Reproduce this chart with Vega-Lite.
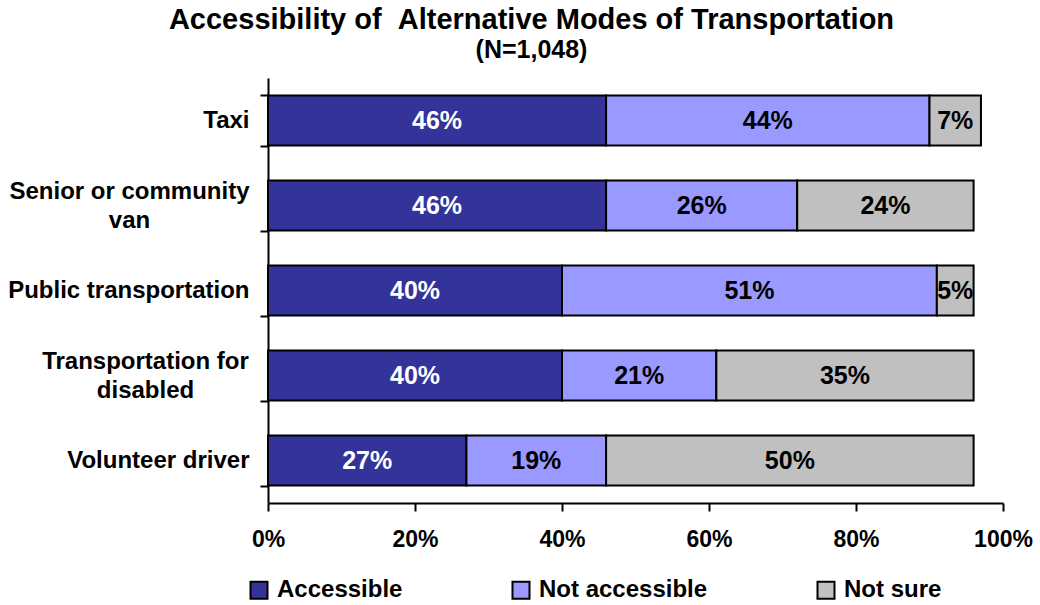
{
  "$schema": "https://vega.github.io/schema/vega-lite/v6.json",
  "autosize": {"type": "none"},
  "width": 735,
  "height": 425,
  "padding": {"left": 268, "top": 78, "right": 37, "bottom": 102},
  "background": "white",
  "title": {
    "text": "Accessibility of \u00a0Alternative Modes of Transportation",
    "subtitle": "(N=1,048)",
    "anchor": "middle",
    "dx": -104,
    "offset": 3,
    "font": "Liberation Sans",
    "fontSize": 29,
    "fontWeight": "bold",
    "color": "black",
    "subtitleFont": "Liberation Sans",
    "subtitleFontSize": 25,
    "subtitleFontWeight": "bold",
    "subtitleColor": "black",
    "subtitlePadding": 3
  },
  "data": {
    "values": [
      {"mode": "Taxi", "status": "Accessible", "k": 1, "value": 0.46},
      {"mode": "Taxi", "status": "Not accessible", "k": 2, "value": 0.44},
      {"mode": "Taxi", "status": "Not sure", "k": 3, "value": 0.07},
      {"mode": "Senior or community van", "status": "Accessible", "k": 1, "value": 0.46},
      {"mode": "Senior or community van", "status": "Not accessible", "k": 2, "value": 0.26},
      {"mode": "Senior or community van", "status": "Not sure", "k": 3, "value": 0.24},
      {"mode": "Public transportation", "status": "Accessible", "k": 1, "value": 0.40},
      {"mode": "Public transportation", "status": "Not accessible", "k": 2, "value": 0.51},
      {"mode": "Public transportation", "status": "Not sure", "k": 3, "value": 0.05},
      {"mode": "Transportation for disabled", "status": "Accessible", "k": 1, "value": 0.40},
      {"mode": "Transportation for disabled", "status": "Not accessible", "k": 2, "value": 0.21},
      {"mode": "Transportation for disabled", "status": "Not sure", "k": 3, "value": 0.35},
      {"mode": "Volunteer driver", "status": "Accessible", "k": 1, "value": 0.27},
      {"mode": "Volunteer driver", "status": "Not accessible", "k": 2, "value": 0.19},
      {"mode": "Volunteer driver", "status": "Not sure", "k": 3, "value": 0.50}
    ]
  },
  "encoding": {
    "y": {
      "field": "mode",
      "type": "nominal",
      "sort": ["Taxi", "Senior or community van", "Public transportation", "Transportation for disabled", "Volunteer driver"],
      "scale": {"paddingInner": 0.41, "paddingOuter": 0.205},
      "axis": {
        "title": null,
        "domainColor": "black",
        "domainWidth": 2,
        "tickColor": "black",
        "tickWidth": 2,
        "tickSize": 8,
        "tickBand": "extent",
        "labelFont": "Liberation Sans",
        "labelFontSize": 24,
        "labelFontWeight": "bold",
        "labelColor": "black",
        "labelLimit": 300,
        "labelLineHeight": 29,
        "labelAlign": {"condition": {"test": "datum.label == 'Senior or community van' || datum.label == 'Transportation for disabled'", "value": "center"}, "value": "right"},
        "labelPadding": {"condition": [
          {"test": "datum.label == 'Senior or community van'", "value": 131},
          {"test": "datum.label == 'Transportation for disabled'", "value": 115}
        ], "value": 11},
        "labelOffset": {"condition": {"test": "datum.label == 'Senior or community van' || datum.label == 'Transportation for disabled'", "value": -14}, "value": 0},
        "labelExpr": "datum.label == 'Senior or community van' ? ['Senior or community', 'van'] : datum.label == 'Transportation for disabled' ? ['Transportation for', 'disabled'] : datum.label"
      }
    }
  },
  "layer": [
    {
      "mark": {"type": "bar", "stroke": "black", "strokeWidth": 2},
      "encoding": {
        "x": {
          "field": "value",
          "type": "quantitative",
          "stack": "zero",
          "scale": {"domain": [0, 1], "nice": false},
          "axis": {
            "title": null,
            "values": [0, 0.2, 0.4, 0.6, 0.8, 1],
            "format": ".0%",
            "grid": false,
            "domainColor": "black",
            "domainWidth": 2,
            "tickColor": "black",
            "tickWidth": 2,
            "tickSize": 8,
            "labelFont": "Liberation Sans",
            "labelFontSize": 23,
            "labelFontWeight": "bold",
            "labelColor": "black",
            "labelPadding": 17,
            "labelFlush": false
          }
        },
        "color": {
          "field": "status",
          "type": "nominal",
          "scale": {"domain": ["Accessible", "Not accessible", "Not sure"], "range": ["#333399", "#9999FF", "#C0C0C0"]},
          "legend": {
            "title": null,
            "orient": "none",
            "direction": "horizontal",
            "legendX": -21,
            "legendY": 500,
            "symbolType": "square",
            "symbolSize": 289,
            "symbolStrokeColor": "black",
            "symbolStrokeWidth": 2,
            "symbolOpacity": 1,
            "labelFont": "Liberation Sans",
            "labelFontSize": 24,
            "labelFontWeight": "bold",
            "labelColor": "black",
            "labelLimit": 300,
            "labelOffset": 6,
            "columnPadding": 105
          }
        },
        "order": {"field": "k", "type": "quantitative"}
      }
    },
    {
      "mark": {"type": "text", "font": "Liberation Sans", "fontSize": 25, "fontWeight": "bold", "align": "center", "baseline": "middle"},
      "encoding": {
        "x": {"field": "value", "type": "quantitative", "stack": "zero", "bandPosition": 0.5},
        "text": {"field": "value", "type": "quantitative", "format": ".0%"},
        "detail": {"field": "status"},
        "order": {"field": "k", "type": "quantitative"},
        "fill": {"condition": {"test": "datum.status === 'Accessible'", "value": "white"}, "value": "black"}
      }
    }
  ],
  "config": {"view": {"stroke": null}}
}
